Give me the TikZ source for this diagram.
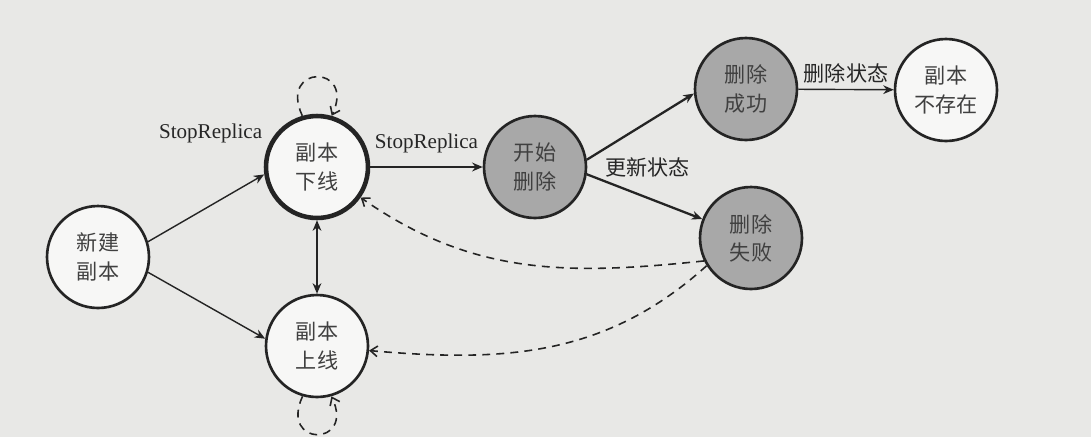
\documentclass[tikz,border=0pt]{standalone}
\usepackage{fontspec}
\setmainfont{Liberation Serif}
\newfontfamily\cjk{Noto Sans CJK SC}
\usetikzlibrary{arrows.meta,positioning}
\definecolor{paper}{RGB}{232,232,230}
\definecolor{inkline}{RGB}{36,36,36}
\definecolor{shadefill}{RGB}{168,168,168}
\definecolor{lightfill}{RGB}{247,247,246}
\begin{document}
\begin{tikzpicture}
[x=0.02cm,y=0.02cm,
 statedecorate/.style={shape=circle,minimum size=2.04cm,inner sep=0pt,draw=inkline,line width=1.5pt,fill=lightfill,align=center,font=\cjk\fontsize{12}{16}\selectfont,text=black!75},
 shadedecorate/.style={statedecorate,fill=shadefill},
 labeldecorate/.style={font=\fontsize{12}{14}\selectfont,text=black!85},
 cjklabeldecorate/.style={font=\cjk\fontsize{12}{14}\selectfont,text=black!85},
 arrowdecorate/.style={-{Stealth[length=6pt,width=5pt]},draw=inkline,line width=0.8pt},
 twoarrowdecorate/.style={arrowdecorate,{Stealth[length=6pt,width=5pt]}-{Stealth[length=6pt,width=5pt]}},
 thickarrowdecorate/.style={arrowdecorate,line width=1.3pt},
 dashdecorate/.style={-{Straight Barb[length=4pt,width=6pt]},draw=inkline,line width=0.9pt,dash pattern=on 4.5pt off 3.5pt}]
\useasboundingbox (0,0) rectangle (1091,-437);
\fill[paper] (0,0) rectangle (1091,-437);
% states
\node (new) at (98,-257) [statedecorate] {新建\\副本};
\node (off) at (317,-167) [statedecorate,line width=2.6pt] {副本\\下线};
\node (on) at (317,-346) [statedecorate] {副本\\上线};
\node (startdel) at (535,-167) [shadedecorate] {开始\\删除};
\node (succ) at (746,-89) [shadedecorate] {删除\\成功};
\node (fail) at (751,-238) [shadedecorate] {删除\\失败};
\node (gone) at (946,-90) [statedecorate] {副本\\不存在};
% free labels
\node (lbloff) [labeldecorate,left=0.22cm of off.135,yshift=-0.08cm] {StopReplica};
\node (lblupd) [cjklabeldecorate,right=0.23cm of startdel.east] {更新状态};
% transitions
\path
(new.17) edge[arrowdecorate] (off.188)
(new.-17) edge[arrowdecorate] (on.172)
(off) edge[twoarrowdecorate] (on)
(off) edge[thickarrowdecorate] node[labeldecorate,above=0.14cm]{StopReplica} (startdel)
(startdel.8) edge[thickarrowdecorate] (succ.185)
(startdel.-8) edge[thickarrowdecorate] (fail)
(succ) edge[arrowdecorate] node[cjklabeldecorate,above]{删除状态} (gone)
(fail.206) edge[dashdecorate,out=186,in=-35] (off)
(fail.212) edge[dashdecorate,out=222,in=-5] (on)
(off.106) edge[dashdecorate,out=115,in=65,looseness=5] (off.74)
(on.-106) edge[dashdecorate,out=-115,in=-65,looseness=5] (on.-74);
\end{tikzpicture}
\end{document}
